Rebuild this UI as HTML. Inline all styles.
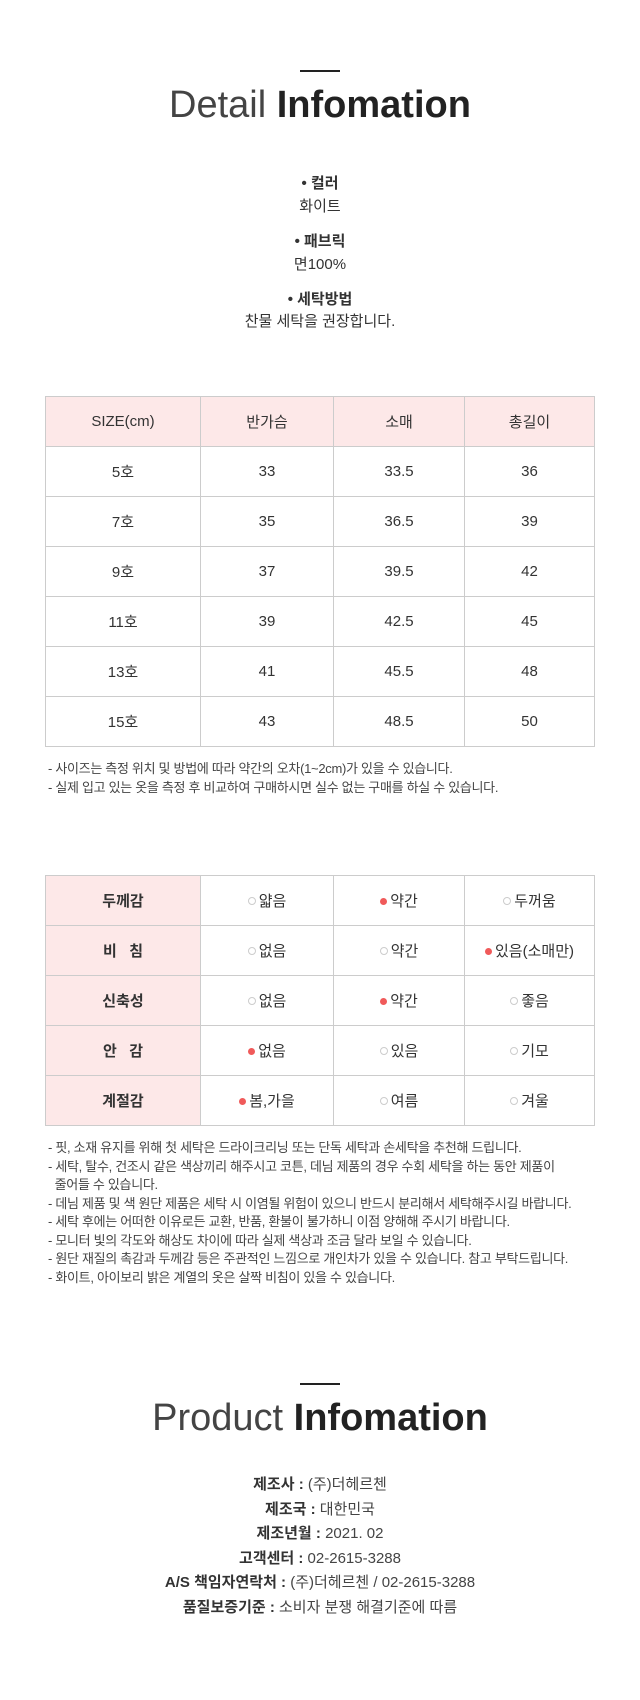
<!DOCTYPE html>
<html><head><meta charset="utf-8"><style>
body{margin:0;width:640px;height:1700px;background:#fff;font-family:"Liberation Sans","Noto Sans CJK KR",sans-serif;color:#333;position:relative;overflow:hidden}
.a{position:absolute;left:0;width:640px;text-align:center}
.line{position:absolute;height:2px;background:#222;left:300px;width:40px}
.title{font-size:38px;color:#444;font-weight:300;line-height:46px}
.title b{font-weight:bold;color:#222}
.t15{font-size:15px;line-height:20px}
table{position:absolute;left:45px;border-collapse:collapse;table-layout:fixed;width:549px}
td{border:1px solid #ccc;text-align:center;font-size:15px;height:49px;padding:0;color:#333}
.pk{background:#fde8e8}
.note{position:absolute;left:48px;font-size:13px;color:#444;line-height:18.5px;letter-spacing:-0.3px}
.d{display:inline-block;width:7px;height:7px;border-radius:50%;background:#f05a5a;margin-right:3px;vertical-align:1px}
.o{display:inline-block;width:6px;height:6px;border-radius:50%;border:1px solid #ccc;margin-right:3px;vertical-align:1px}
.info{font-size:15px;line-height:24.5px;color:#444}
.info b{color:#333}
</style></head><body>
<div class="line" style="top:70px"></div>
<div class="a title" style="top:82px">Detail <b>Infomation</b></div>
<div class="a t15" style="top:174px"><b>• 컬러</b></div>
<div class="a t15" style="top:197px">화이트</div>
<div class="a t15" style="top:232px"><b>• 패브릭</b></div>
<div class="a t15" style="top:255px">면100%</div>
<div class="a t15" style="top:290px"><b>• 세탁방법</b></div>
<div class="a t15" style="top:312px">찬물 세탁을 권장합니다.</div>

<table style="top:396px">
<colgroup><col style="width:155px"><col style="width:133px"><col style="width:131px"><col style="width:130px"></colgroup>
<tr class="pk"><td>SIZE(cm)</td><td>반가슴</td><td>소매</td><td>총길이</td></tr>
<tr><td>5호</td><td>33</td><td>33.5</td><td>36</td></tr>
<tr><td>7호</td><td>35</td><td>36.5</td><td>39</td></tr>
<tr><td>9호</td><td>37</td><td>39.5</td><td>42</td></tr>
<tr><td>11호</td><td>39</td><td>42.5</td><td>45</td></tr>
<tr><td>13호</td><td>41</td><td>45.5</td><td>48</td></tr>
<tr><td>15호</td><td>43</td><td>48.5</td><td>50</td></tr>
</table>
<div class="note" style="top:760px">- 사이즈는 측정 위치 및 방법에 따라 약간의 오차(1~2cm)가 있을 수 있습니다.<br>- 실제 입고 있는 옷을 측정 후 비교하여 구매하시면 실수 없는 구매를 하실 수 있습니다.</div>

<table style="top:875px">
<colgroup><col style="width:155px"><col style="width:133px"><col style="width:131px"><col style="width:130px"></colgroup>
<tr><td class="pk"><b>두께감</b></td><td><span class="o"></span>얇음</td><td><span class="d"></span>약간</td><td><span class="o"></span>두꺼움</td></tr>
<tr><td class="pk"><b>비 &nbsp; 침</b></td><td><span class="o"></span>없음</td><td><span class="o"></span>약간</td><td><span class="d"></span>있음(소매만)</td></tr>
<tr><td class="pk"><b>신축성</b></td><td><span class="o"></span>없음</td><td><span class="d"></span>약간</td><td><span class="o"></span>좋음</td></tr>
<tr><td class="pk"><b>안 &nbsp; 감</b></td><td><span class="d"></span>없음</td><td><span class="o"></span>있음</td><td><span class="o"></span>기모</td></tr>
<tr><td class="pk"><b>계절감</b></td><td><span class="d"></span>봄,가을</td><td><span class="o"></span>여름</td><td><span class="o"></span>겨울</td></tr>
</table>
<div class="note" style="top:1139px">- 핏, 소재 유지를 위해 첫 세탁은 드라이크리닝 또는 단독 세탁과 손세탁을 추천해 드립니다.<br>- 세탁, 탈수, 건조시 같은 색상끼리 해주시고 코튼, 데님 제품의 경우 수회 세탁을 하는 동안 제품이<br>&nbsp;&nbsp;줄어들 수 있습니다.<br>- 데님 제품 및 색 원단 제품은 세탁 시 이염될 위험이 있으니 반드시 분리해서 세탁해주시길 바랍니다.<br>- 세탁 후에는 어떠한 이유로든 교환, 반품, 환불이 불가하니 이점 양해해 주시기 바랍니다.<br>- 모니터 빛의 각도와 해상도 차이에 따라 실제 색상과 조금 달라 보일 수 있습니다.<br>- 원단 재질의 촉감과 두께감 등은 주관적인 느낌으로 개인차가 있을 수 있습니다. 참고 부탁드립니다.<br>- 화이트, 아이보리 밝은 계열의 옷은 살짝 비침이 있을 수 있습니다.</div>

<div class="line" style="top:1383px"></div>
<div class="a title" style="top:1395px">Product <b>Infomation</b></div>
<div class="a info" style="top:1473px"><b>제조사 :</b> (주)더헤르첸<br><b>제조국 :</b> 대한민국<br><b>제조년월 :</b> 2021. 02<br><b>고객센터 :</b> 02-2615-3288<br><b>A/S 책임자연락처 :</b> (주)더헤르첸 / 02-2615-3288<br><b>품질보증기준 :</b> 소비자 분쟁 해결기준에 따름</div>
</body></html>
